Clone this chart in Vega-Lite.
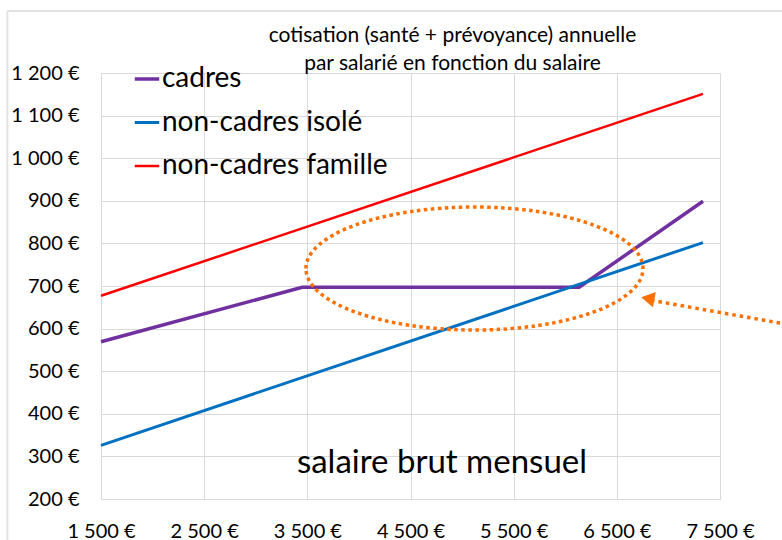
{
  "$schema": "https://vega.github.io/schema/vega-lite/v6.json",
  "width": 619,
  "height": 426,
  "autosize": {"type": "none"},
  "padding": {"left": 101, "top": 73, "right": 62, "bottom": 41},
  "background": "white",
  "title": {
    "text": ["cotisation (santé + prévoyance) annuelle", "par salarié en fonction du salaire"],
    "font": "Lato",
    "fontSize": 21,
    "fontWeight": "normal",
    "color": "#000000",
    "anchor": "middle",
    "frame": "group",
    "dx": 42,
    "lineHeight": 28,
    "offset": -64
  },
  "datasets": {
    "series": [
      {"salaire": 1500, "cotisation": 569, "categorie": "cadres"},
      {"salaire": 3450, "cotisation": 697, "categorie": "cadres"},
      {"salaire": 6135, "cotisation": 697, "categorie": "cadres"},
      {"salaire": 7335, "cotisation": 899, "categorie": "cadres"},
      {"salaire": 1500, "cotisation": 326, "categorie": "non-cadres isolé"},
      {"salaire": 7335, "cotisation": 802, "categorie": "non-cadres isolé"},
      {"salaire": 1500, "cotisation": 677, "categorie": "non-cadres famille"},
      {"salaire": 7335, "cotisation": 1151, "categorie": "non-cadres famille"}
    ],
    "one": [{"note": "annotation"}]
  },
  "layer": [
    {
      "data": {"name": "series"},
      "mark": {"type": "line", "clip": false},
      "encoding": {
        "x": {
          "field": "salaire", "type": "quantitative",
          "scale": {"domain": [1500, 7500], "nice": false, "zero": false},
          "axis": {
            "values": [1500, 2500, 3500, 4500, 5500, 6500, 7500],
            "labelExpr": "replace(format(datum.value, ',d'), ',', ' ') + ' €'",
            "labelPadding": 22,
            "labelFlush": false,
            "labelOverlap": false,
            "title": null
          }
        },
        "y": {
          "field": "cotisation", "type": "quantitative",
          "scale": {"domain": [200, 1200], "nice": false, "zero": false},
          "axis": {
            "values": [200, 300, 400, 500, 600, 700, 800, 900, 1000, 1100, 1200],
            "labelExpr": "replace(format(datum.value, ',d'), ',', ' ') + ' €'",
            "labelPadding": 22,
            "labelFlush": false,
            "labelOverlap": false,
            "title": null
          }
        },
        "color": {
          "field": "categorie", "type": "nominal",
          "scale": {
            "domain": ["cadres", "non-cadres isolé", "non-cadres famille"],
            "range": ["#7030A0", "#0070C0", "#FF0000"]
          },
          "legend": {
            "orient": "none",
            "legendX": 32,
            "legendY": -8,
            "title": null,
            "symbolType": "stroke",
            "symbolSize": 600,
            "symbolStrokeWidth": 3,
            "labelFont": "Lato",
            "labelFontSize": 28,
            "labelColor": "#000000",
            "labelOffset": 1,
            "rowPadding": 15.5,
            "labelLimit": 500
          }
        },
        "strokeWidth": {
          "field": "categorie", "type": "nominal",
          "scale": {
            "domain": ["cadres", "non-cadres isolé", "non-cadres famille"],
            "range": [3.5, 2.5, 2.5]
          },
          "legend": null
        }
      }
    },
    {
      "data": {"name": "one"},
      "mark": {
        "type": "point",
        "shape": "M -1 0 C -1 -0.2016 -0.5523 -0.365 0 -0.365 C 0.5523 -0.365 1 -0.2016 1 0 C 1 0.2016 0.5523 0.365 0 0.365 C -0.5523 0.365 -1 0.2016 -1 0 Z",
        "size": 113569,
        "filled": false,
        "stroke": "#FF7000",
        "strokeWidth": 3.5,
        "strokeDash": [3.5, 3.5],
        "strokeCap": "butt",
        "opacity": 1,
        "clip": false
      },
      "encoding": {
        "x": {"datum": 5120, "type": "quantitative"},
        "y": {"datum": 741, "type": "quantitative"}
      }
    },
    {
      "data": {"name": "one"},
      "mark": {
        "type": "rule",
        "stroke": "#FF7000",
        "strokeWidth": 3.5,
        "strokeDash": [3.5, 4],
        "strokeCap": "butt",
        "clip": false
      },
      "encoding": {
        "x": {"datum": 8082, "type": "quantitative"},
        "y": {"datum": 613, "type": "quantitative"},
        "x2": {"datum": 6820},
        "y2": {"datum": 667}
      }
    },
    {
      "data": {"name": "one"},
      "mark": {
        "type": "point",
        "shape": "triangle-left",
        "size": 240,
        "filled": true,
        "color": "#FF7000",
        "opacity": 1,
        "angle": 10.5,
        "clip": false
      },
      "encoding": {
        "x": {"datum": 6800, "type": "quantitative"},
        "y": {"datum": 671, "type": "quantitative"}
      }
    },
    {
      "data": {"name": "one"},
      "mark": {
        "type": "text",
        "text": "salaire brut mensuel",
        "font": "Lato",
        "fontSize": 33,
        "color": "#000000",
        "align": "center",
        "baseline": "middle"
      },
      "encoding": {
        "x": {"datum": 4805, "type": "quantitative"},
        "y": {"datum": 284.5, "type": "quantitative"}
      }
    },
    {
      "data": {"name": "one"},
      "mark": {"type": "rule", "stroke": "#e3e3e3", "strokeWidth": 2, "clip": false},
      "encoding": {
        "x": {"datum": 592, "type": "quantitative"},
        "y": {"datum": 1345.5, "type": "quantitative"},
        "y2": {"datum": 92}
      }
    },
    {
      "data": {"name": "one"},
      "mark": {"type": "rule", "stroke": "#e3e3e3", "strokeWidth": 2, "clip": false},
      "encoding": {
        "x": {"datum": 592, "type": "quantitative"},
        "x2": {"datum": 8178},
        "y": {"datum": 1345.5, "type": "quantitative"}
      }
    }
  ],
  "config": {
    "font": "Lato",
    "view": {"stroke": null},
    "axis": {
      "labelFont": "Lato",
      "labelFontSize": 20,
      "labelColor": "#000000",
      "grid": true,
      "gridColor": "#d9d9d9",
      "gridWidth": 1,
      "ticks": false,
      "domain": false
    }
  }
}
